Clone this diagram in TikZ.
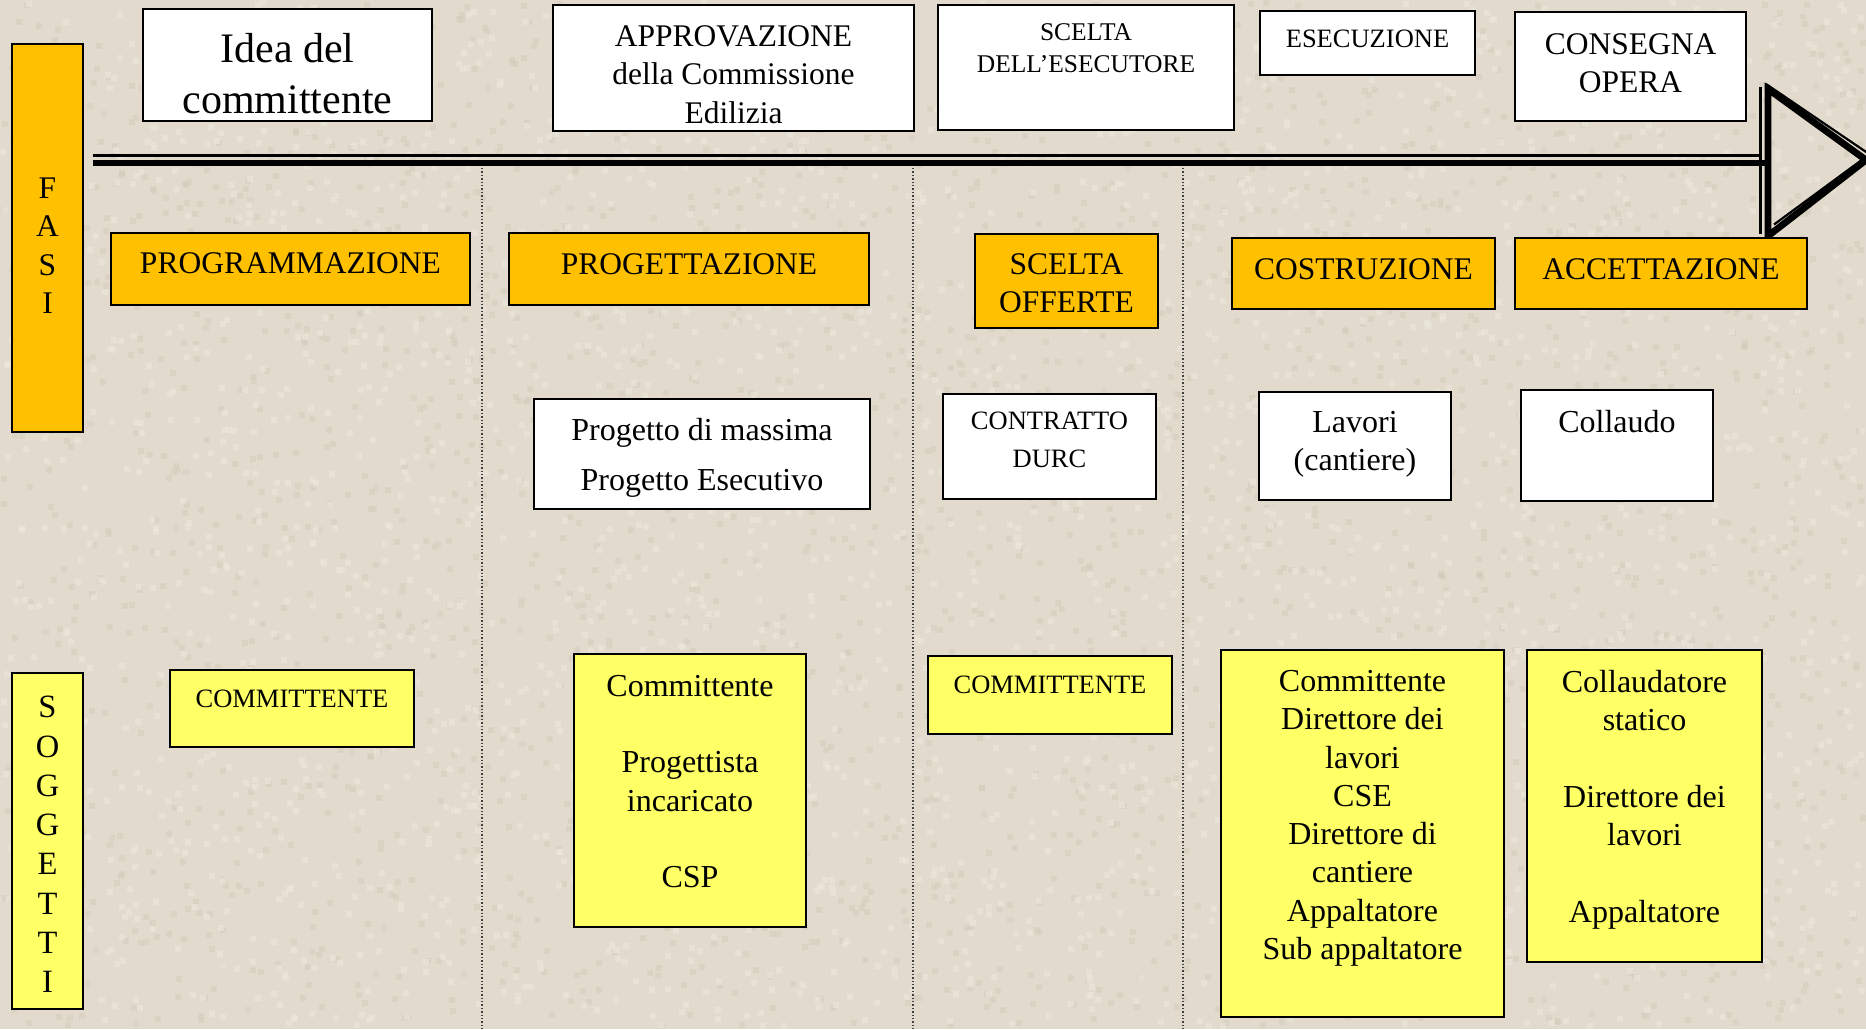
\documentclass[tikz,border=0pt]{standalone}
\usepackage{fontspec}
\setmainfont{Liberation Serif}

\definecolor{paper}{RGB}{226,219,205}
\definecolor{paperdark}{RGB}{208,199,184}
\definecolor{paperlight}{RGB}{236,231,220}
\definecolor{phase}{RGB}{255,192,0}
\definecolor{actor}{RGB}{255,255,102}

\newcommand\fs[2]{\fontsize{#1}{#2}\selectfont}
% \panelbox{name}{style}{x1}{y1}{x2}{y2}: a rectangle given by its corners
\newcommand\panelbox[6]{%
  \node[#2, minimum width={(#5-#3)*1pt}, minimum height={(#6-#4)*1pt}]
    (#1) at ({(#3+#5)/2},{(#4+#6)/2}) {};}

\tikzset{
  panel/.style={draw=black, line width=2pt, inner sep=0pt, outer sep=0pt},
  whitebox/.style={panel, fill=white},
  phasebox/.style={panel, fill=phase},
  actorbox/.style={panel, fill=actor},
  boxtext/.style={inner sep=0pt, align=center, anchor=north},
  divider/.style={line width=1.2pt, black!75, dash pattern=on 1.4pt off 2pt},
  thinrule/.style={line width=2.2pt, black},
  thickrule/.style={line width=6.8pt, black},
}

\begin{document}
\begin{tikzpicture}[x=1pt, y=-1pt]
  % paper background with a soft mottled grain
  \fill[paper] (0,0) rectangle (1866,1029);
  \useasboundingbox (0,0) rectangle (1866,1029);
  \pgfmathsetseed{17}
  \foreach \i in {1,...,2600}{%
    \pgfmathsetmacro\px{rnd*1860}%
    \pgfmathsetmacro\py{rnd*1023}%
    \fill[paperdark, opacity=0.4] (\px,\py) rectangle ++(6,6);}
  \foreach \i in {1,...,2600}{%
    \pgfmathsetmacro\px{rnd*1860}%
    \pgfmathsetmacro\py{rnd*1023}%
    \fill[paperlight, opacity=0.6] (\px,\py) rectangle ++(6,6);}

  % column dividers
  \coordinate (d1a) at (482,168);  \coordinate (d1b) at (482,1029);
  \coordinate (d2a) at (913,168);  \coordinate (d2b) at (913,1029);
  \coordinate (d3a) at (1183,168); \coordinate (d3b) at (1183,1029);
  \draw[divider] (d1a) -- (d1b);
  \draw[divider] (d2a) -- (d2b);
  \draw[divider] (d3a) -- (d3b);

  % time line with open arrow head (thick/thin double stroke)
  \draw[thinrule]  (93,155.5) -- (1760.5,155.5);
  \draw[thickrule] (93,163) -- (1768,163);
  \draw[thinrule]  (1760.5,87) -- (1760.5,234);
  \draw[thickrule, line join=miter] (1768,236) -- (1768,89) -- (1866,160) -- cycle;
  \draw[thinrule]  (1766,84) -- (1872,156);
  \draw[thinrule]  (1774,224.5) -- (1861,160.5);

  % side headers
  \panelbox{fasi}{phasebox}{12}{44}{83}{432}
  \node[boxtext, font=\fs{31.5}{38.5}] (fasi-t) at (47.5,177.5) {F\\A\\S\\I};
  \panelbox{sogg}{actorbox}{12}{673}{83}{1009}
  \node[boxtext, font=\fs{32.5}{39.3}] (sogg-t) at (47.5,696) {S\\O\\G\\G\\E\\T\\T\\I};

  % milestones above the time line
  \panelbox{idea}{whitebox}{143}{9}{432}{121}
  \node[boxtext, font=\fs{42}{51}] (idea-t) at (287.5,33) {Idea del\\committente};
  \panelbox{appr}{whitebox}{553}{5}{914}{131}
  \node[boxtext, font=\fs{31.5}{38.7}] (appr-t) at (733.5,25) {APPROVAZIONE\\della Commissione\\Edilizia};
  \panelbox{scel}{whitebox}{938}{5}{1234}{130}
  \node[boxtext, font=\fs{25.5}{32}] (scel-t) at (1086,23.5) {SCELTA\\DELL’ESECUTORE};
  \panelbox{esec}{whitebox}{1260}{11}{1475}{75}
  \node[boxtext, font=\fs{26.5}{32}] (esec-t) at (1367.5,29.3) {ESECUZIONE};
  \panelbox{cons}{whitebox}{1515}{12}{1746}{121}
  \node[boxtext, font=\fs{31.5}{38}] (cons-t) at (1630.5,33.6) {CONSEGNA\\OPERA};

  % phases
  \panelbox{prog}{phasebox}{111}{233}{470}{305}
  \node[boxtext, font=\fs{31.5}{38}] (prog-t) at (290.5,252.6) {PROGRAMMAZIONE};
  \panelbox{proj}{phasebox}{509}{233}{869}{305}
  \node[boxtext, font=\fs{31.5}{38}] (proj-t) at (689,253.6) {PROGETTAZIONE};
  \panelbox{offe}{phasebox}{975}{234}{1158}{328}
  \node[boxtext, font=\fs{31.5}{38}] (offe-t) at (1066.5,253.6) {SCELTA\\OFFERTE};
  \panelbox{cost}{phasebox}{1232}{238}{1495}{309}
  \node[boxtext, font=\fs{31.5}{38}] (cost-t) at (1363.5,258.6) {COSTRUZIONE};
  \panelbox{acce}{phasebox}{1515}{238}{1807}{309}
  \node[boxtext, font=\fs{31.5}{38}] (acce-t) at (1661,258.6) {ACCETTAZIONE};

  % documents and activities
  \panelbox{docs}{whitebox}{534}{399}{870}{509}
  \node[boxtext, font=\fs{32}{50}] (docs-t) at (702,418) {Progetto di massima\\Progetto Esecutivo};
  \panelbox{cont}{whitebox}{943}{394}{1156}{499}
  \node[boxtext, font=\fs{26.5}{38}] (cont-t) at (1049.5,412) {CONTRATTO\\DURC};
  \panelbox{lavo}{whitebox}{1259}{392}{1451}{500}
  \node[boxtext, font=\fs{32}{38.5}] (lavo-t) at (1355,411) {Lavori\\(cantiere)};
  \panelbox{coll}{whitebox}{1521}{390}{1713}{501}
  \node[boxtext, font=\fs{32}{38.5}] (coll-t) at (1617,410) {Collaudo};

  % people involved
  \panelbox{who1}{actorbox}{170}{670}{414}{747}
  \node[boxtext, font=\fs{26.5}{32}] (who1-t) at (292,689.5) {COMMITTENTE};
  \panelbox{who2}{actorbox}{574}{654}{806}{927}
  \node[boxtext, font=\fs{32}{38.2}] (who2-t) at (690,675)
    {Committente\\[38.2pt]Progettista\\incaricato\\[38.2pt]CSP};
  \panelbox{who3}{actorbox}{928}{656}{1172}{734}
  \node[boxtext, font=\fs{26.5}{32}] (who3-t) at (1050,676) {COMMITTENTE};
  \panelbox{who4}{actorbox}{1221}{650}{1504}{1017}
  \node[boxtext, font=\fs{32}{38.3}] (who4-t) at (1362.5,670)
    {Committente\\Direttore dei\\lavori\\CSE\\Direttore di\\cantiere\\Appaltatore\\Sub appaltatore};
  \panelbox{who5}{actorbox}{1527}{650}{1762}{962}
  \node[boxtext, font=\fs{32}{38.3}] (who5-t) at (1644.5,670)
    {Collaudatore\\statico\\[38.3pt]Direttore dei\\lavori\\[38.3pt]Appaltatore};
\end{tikzpicture}
\end{document}
